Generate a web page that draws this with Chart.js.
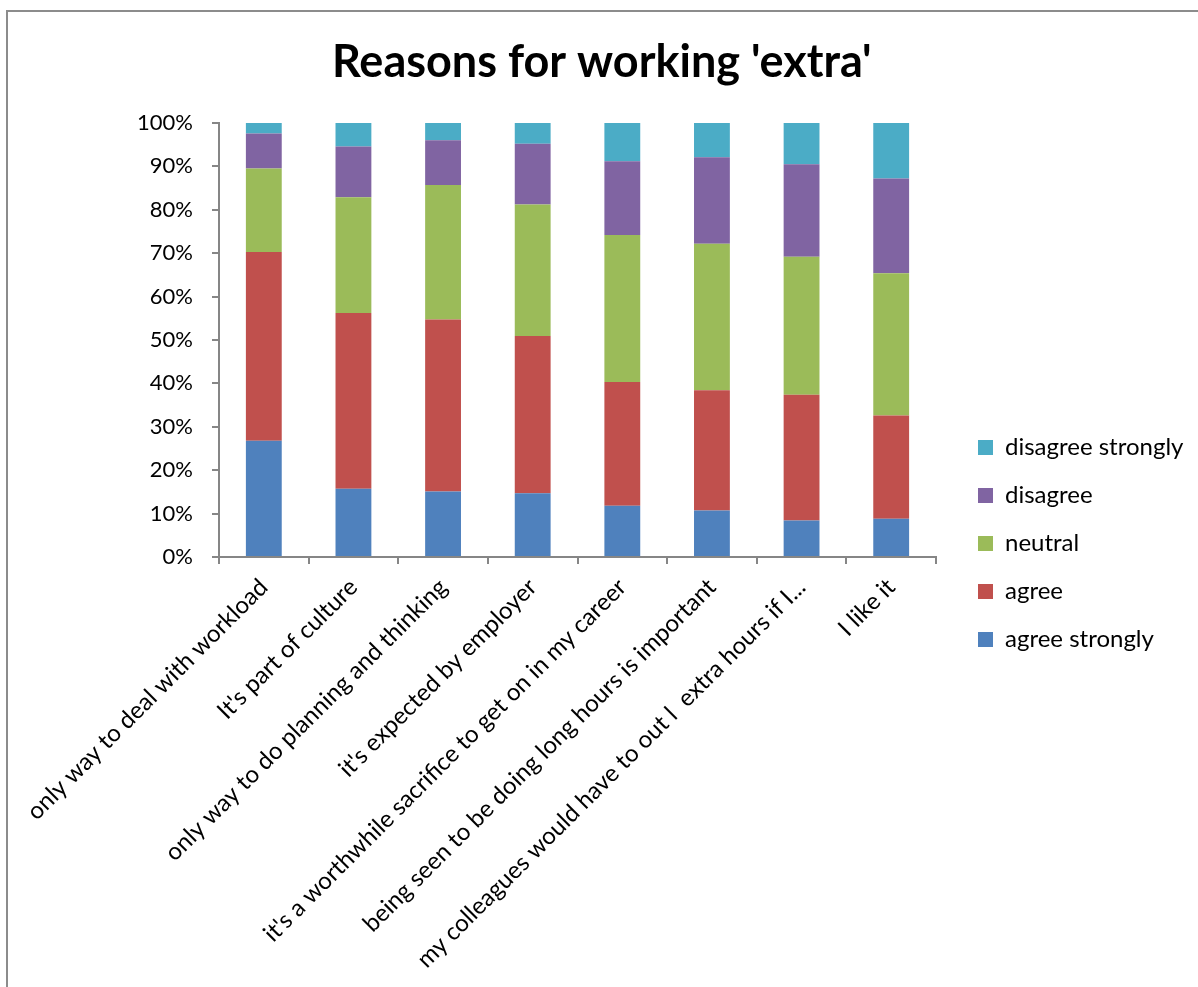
<!DOCTYPE html>
<html>
<head>
<meta charset="utf-8">
<script src="https://cdn.jsdelivr.net/npm/chart.js@4"></script>
<style>
  html, body { margin: 0; padding: 0; background: #fff; overflow: hidden; }
  #frame { position: absolute; left: 6px; top: 10px; width: 1400px; height: 1200px; border: 2px solid #8c8c8c; }
  canvas { position: absolute; left: 0; top: 0; }
</style>
</head>
<body>
<div id="frame"></div>
<canvas id="chart" width="1198" height="987"></canvas>
<script>
const categories = [
  'only way to deal with workload',
  "It's part of culture",
  'only way to do planning and thinking',
  "it's expected by employer",
  "it's a worthwhile sacrifice to get on in my career",
  'being seen to be doing long hours is important',
  'my colleagues would have to out l  extra hours if I...',
  'I like it'
];

// percent of respondents
const agreeStrongly    = [26.8, 15.7, 15.1, 14.7, 11.8, 10.7,  8.4,  8.8];
const agree            = [43.5, 40.5, 39.6, 36.2, 28.5, 27.7, 29.0, 23.8];
const neutral          = [19.2, 26.7, 31.0, 30.3, 33.9, 33.8, 31.8, 32.8];
const disagree         = [ 8.1, 11.7, 10.3, 14.0, 17.0, 19.9, 21.3, 21.8];
const disagreeStrongly = [ 2.4,  5.4,  4.0,  4.8,  8.8,  7.9,  9.5, 12.8];

const axisGrey = '#868686';
const font = 'Lato';
const legendSize = 24;
const legendPad = 24;

const ctx = document.getElementById('chart').getContext('2d');

// legend width, so the plot ends at x=936 whatever the font measures
ctx.font = legendSize + 'px ' + font;
const legendWidth = legendPad + 15 + legendSize / 2 + ctx.measureText('disagree strongly').width + 10;
const padRight = Math.max(0, 1198 - 936 - legendWidth);

// move the legend away from the plot, like the excel layout
const legendShift = {
  id: 'legendShift',
  afterLayout(chart) {
    const lg = chart.legend;
    const dx = 978 - (lg.left + legendPad);
    const dy = 50;
    lg.left += dx; lg.right += dx;
    lg.top += dy; lg.bottom += dy;
  }
};

new Chart(ctx, {
  type: 'bar',
  data: {
    labels: categories,
    datasets: [
      { label: 'agree strongly', data: agreeStrongly, backgroundColor: '#4F81BD' },
      { label: 'agree', data: agree, backgroundColor: '#C0504D' },
      { label: 'neutral', data: neutral, backgroundColor: '#9BBB59' },
      { label: 'disagree', data: disagree, backgroundColor: '#8064A2' },
      { label: 'disagree strongly', data: disagreeStrongly, backgroundColor: '#4BACC6' }
    ]
  },
  plugins: [legendShift],
  options: {
    responsive: false,
    animation: false,
    barPercentage: 0.4,
    categoryPercentage: 1,
    layout: { padding: { left: 28, right: padRight, bottom: 0 } },
    scales: {
      x: {
        stacked: true,
        afterFit: (s) => { s.height = 430; },
        grid: { drawOnChartArea: false, tickLength: 7, color: axisGrey, lineWidth: 2 },
        border: { color: axisGrey, width: 2 },
        ticks: {
          autoSkip: false,
          minRotation: 45,
          maxRotation: 45,
          padding: 9,
          color: '#000',
          font: { family: font, size: 24 }
        }
      },
      y: {
        stacked: true,
        min: 0,
        max: 100,
        afterFit: (s) => { s.width = 191; },
        grid: { drawOnChartArea: false, tickLength: 7, color: axisGrey, lineWidth: 2 },
        border: { color: axisGrey, width: 2 },
        ticks: {
          stepSize: 10,
          padding: 19,
          color: '#000',
          font: { family: font, size: 22 },
          callback: (v) => v + '%'
        }
      }
    },
    plugins: {
      title: {
        display: true,
        text: "Reasons for working 'extra'",
        color: '#000',
        font: { family: font, size: 45, weight: 'bold', lineHeight: 1.2 },
        padding: { top: 35, bottom: 34 }
      },
      legend: {
        position: 'right',
        reverse: true,
        labels: {
          boxWidth: 15,
          boxHeight: 15,
          padding: legendPad,
          color: '#000',
          font: { family: font, size: legendSize }
        }
      },
      tooltip: { enabled: false }
    }
  }
});
</script>
</body>
</html>
